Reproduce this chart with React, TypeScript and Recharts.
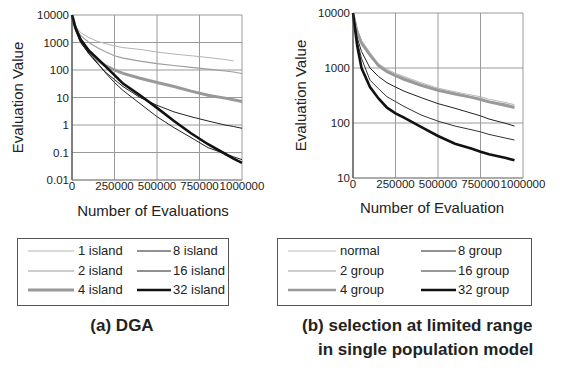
import React from 'react';
import { LineChart, Line, XAxis, YAxis, CartesianGrid, Label } from 'recharts';

const FONT = '"Liberation Sans", Arial, Helvetica, sans-serif';

// ---------- (a) DGA ----------
const dgaEvals = [0, 20000, 50000, 100000, 150000, 200000, 250000, 300000, 400000, 500000, 600000, 700000, 800000, 900000, 950000, 1000000];
const island1 = [10000, 4000, 2300, 1500, 1100, 900, 750, 650, 560, 450, 380, 330, 285, 240, 215, null];
const island2 = [10000, 3500, 1800, 1000, 650, 450, 330, 270, 210, 170, 145, 125, 108, 92, 85, 75];
const island4 = [10000, 3500, 1200, 450, 230, 140, 100, 75, 50, 35, 25, 17, 12, 9.5, 8.3, 7.2];
const island8 = [10000, 3000, 1100, 380, 170, 80, 45, 25, 10, 5.2, 3, 2, 1.4, 1.0, 0.88, 0.76];
const island16 = [10000, 3000, 1000, 400, 180, 75, 35, 18, 6, 2, 0.8, 0.35, 0.15, 0.09, 0.07, 0.055];
const island32 = [10000, 3500, 1300, 500, 260, 130, 65, 32, 12, 4.2, 1.4, 0.5, 0.2, 0.09, 0.06, 0.042];
const dgaYTicks = [0.01, 0.1, 1, 10, 100, 1000, 10000];

// ---------- (b) selection at limited range ----------
const selEvals = [0, 25000, 50000, 100000, 150000, 200000, 250000, 300000, 400000, 500000, 600000, 700000, 750000, 800000, 900000, 950000];
const groupNormal = [10000, 5000, 3200, 1900, 1200, 950, 800, 700, 540, 430, 370, 320, 300, 270, 235, 215];
const group2 = [10000, 4800, 3000, 1800, 1150, 900, 760, 660, 510, 410, 350, 300, 280, 250, 220, 200];
const group4 = [10000, 4500, 2800, 1700, 1100, 850, 720, 620, 480, 390, 335, 290, 265, 240, 205, 190];
const group8 = [10000, 3500, 2000, 1000, 700, 540, 450, 380, 290, 225, 185, 150, 135, 118, 98, 88];
const group16 = [10000, 3000, 1500, 600, 420, 300, 245, 200, 140, 108, 88, 75, 69, 62, 53, 49];
const group32 = [10000, 2500, 1000, 450, 280, 190, 150, 125, 85, 58, 42, 34, 30, 27, 23, 21];
const selYTicks = [10, 100, 1000, 10000];

const xTicks = [0, 250000, 500000, 750000, 1000000];

const minorOf = (decades: number[]) =>
  decades.flatMap((d) => [2, 3, 4, 5, 6, 7, 8, 9].map((m) => +(m * d).toPrecision(3)));

const dgaRows = dgaEvals.map((x, i) => ({
  x,
  i1: island1[i],
  i2: island2[i],
  i4: island4[i],
  i8: island8[i],
  i16: island16[i],
  i32: island32[i],
}));

const selRows = selEvals.map((x, i) => ({
  x,
  g1: groupNormal[i],
  g2: group2[i],
  g4: group4[i],
  g8: group8[i],
  g16: group16[i],
  g32: group32[i],
}));

const dgaSeries = [
  { key: 'i1', name: '1 island', color: '#b4b4b4', w: 1 },
  { key: 'i2', name: '2 island', color: '#9c9c9c', w: 1.1 },
  { key: 'i4', name: '4 island', color: '#999999', w: 3 },
  { key: 'i8', name: '8 island', color: '#222222', w: 1 },
  { key: 'i16', name: '16 island', color: '#222222', w: 1 },
  { key: 'i32', name: '32 island', color: '#111111', w: 2.6 },
];

const selSeries = [
  { key: 'g1', name: 'normal', color: '#b8b8b8', w: 1 },
  { key: 'g2', name: '2 group', color: '#a0a0a0', w: 1.2 },
  { key: 'g4', name: '4 group', color: '#999999', w: 2.6 },
  { key: 'g8', name: '8 group', color: '#222222', w: 1 },
  { key: 'g16', name: '16 group', color: '#333333', w: 1 },
  { key: 'g32', name: '32 group', color: '#111111', w: 2.6 },
];

const tickStyle = { fontSize: 11.5, fill: '#222', fontFamily: FONT };

type PanelProps = {
  rows: any[];
  series: { key: string; name: string; color: string; w: number }[];
  yDomain: [number, number];
  yTicks: number[];
  minor: number[];
  left: number;
  marginTop: number;
  marginRight: number;
  yAxisWidth: number;
  xAxisHeight: number;
  yTitleDx: number;
  xTitleDx: number;
  xTitleDy: number;
  xTitle: string;
};

function Panel(p: PanelProps) {
  return (
    <div style={{ position: 'absolute', left: p.left, top: 0 }}>
      <LineChart
        width={284}
        height={225}
        data={p.rows}
        margin={{ top: p.marginTop, right: p.marginRight, bottom: 0, left: 0 }}
      >
        <CartesianGrid stroke="#9a9a9a" strokeWidth={1} />
        <XAxis
          dataKey="x"
          type="number"
          domain={[0, 1000000]}
          ticks={xTicks}
          interval={0}
          tickSize={0}
          tickMargin={2}
          height={p.xAxisHeight}
          tick={tickStyle}
          axisLine={{ stroke: '#8a8a8a' }}
          tickFormatter={(v: number) => String(v)}
        >
          <Label
            content={(lp: any) => {
              const vb = lp.viewBox || { x: 0, y: 0, width: 0, height: 0 };
              return (
                <text
                  x={vb.x + p.xTitleDx}
                  y={vb.y + p.xTitleDy}
                  textAnchor="middle"
                  dominantBaseline="central"
                  fontSize={15}
                  fontFamily={FONT}
                  fill="#222"
                >
                  {p.xTitle}
                </text>
              );
            }}
          />
        </XAxis>
        <YAxis
          yAxisId={0}
          scale="log"
          domain={p.yDomain}
          allowDataOverflow
          ticks={p.yTicks}
          interval={0}
          tickSize={0}
          tickMargin={3}
          width={p.yAxisWidth}
          tick={tickStyle}
          axisLine={{ stroke: '#333' }}
          tickFormatter={(v: number) => String(v)}
        >
          <Label
            content={(lp: any) => {
              const vb = lp.viewBox || { x: 0, y: 0, width: 0, height: 0 };
              const cx = vb.x + p.yTitleDx;
              const cy = vb.y + vb.height / 2;
              return (
                <text
                  x={cx}
                  y={cy}
                  transform={`rotate(-90, ${cx}, ${cy})`}
                  textAnchor="middle"
                  dominantBaseline="central"
                  fontSize={15}
                  fontFamily={FONT}
                  fill="#222"
                >
                  Evaluation Value
                </text>
              );
            }}
          />
        </YAxis>
        <YAxis
          yAxisId="minor"
          scale="log"
          domain={p.yDomain}
          allowDataOverflow
          ticks={p.minor}
          interval={0}
          mirror
          tick={false}
          tickSize={3}
          width={0}
          axisLine={false}
          tickLine={{ stroke: '#333' }}
        />
        {p.series.map((s) => (
          <Line
            key={s.key}
            yAxisId={0}
            dataKey={s.key}
            name={s.name}
            type="linear"
            stroke={s.color}
            strokeWidth={s.w}
            dot={false}
            activeDot={false}
            isAnimationActive={false}
          />
        ))}
      </LineChart>
    </div>
  );
}

type LegendProps = {
  series: { key: string; name: string; color: string; w: number }[];
  left: number;
  top: number;
  width: number;
  height: number;
  cols: { line: number; len: number; text: number }[];
  rowY: number[];
};

function LegendBox(l: LegendProps) {
  return (
    <div
      style={{
        position: 'absolute',
        left: l.left,
        top: l.top,
        width: l.width,
        height: l.height,
        border: '1px solid #555',
        boxSizing: 'border-box',
        fontFamily: FONT,
        fontSize: 13,
        color: '#222',
      }}
    >
      {l.series.map((s, i) => {
        const col = l.cols[Math.floor(i / 3)];
        const y = l.rowY[i % 3];
        return (
          <div key={s.key}>
            <svg
              style={{ position: 'absolute', left: col.line, top: y - 3 }}
              width={col.len}
              height={6}
            >
              <line x1={0} y1={3} x2={col.len} y2={3} stroke={s.color} strokeWidth={s.w} />
            </svg>
            <div
              style={{
                position: 'absolute',
                left: col.text,
                top: y - 8,
                lineHeight: '16px',
                whiteSpace: 'nowrap',
              }}
            >
              {s.name}
            </div>
          </div>
        );
      })}
    </div>
  );
}

export default function App() {
  return (
    <div
      style={{
        position: 'absolute',
        left: 0,
        top: 0,
        width: 569,
        height: 373,
        background: '#fff',
        fontFamily: FONT,
      }}
    >
      <Panel
        rows={dgaRows}
        series={dgaSeries}
        yDomain={[0.01, 10000]}
        yTicks={dgaYTicks}
        minor={minorOf([0.01, 0.1, 1, 10, 100, 1000])}
        left={0}
        marginTop={15}
        marginRight={42}
        yAxisWidth={72}
        xAxisHeight={45}
        yTitleDx={17}
        xTitleDx={81}
        xTitleDy={30}
        xTitle="Number of Evaluations"
      />
      <Panel
        rows={selRows}
        series={selSeries}
        yDomain={[10, 10000]}
        yTicks={selYTicks}
        minor={minorOf([10, 100, 1000])}
        left={285}
        marginTop={13}
        marginRight={46}
        yAxisWidth={68}
        xAxisHeight={47}
        yTitleDx={15}
        xTitleDx={79}
        xTitleDy={29}
        xTitle="Number of Evaluation"
      />
      <LegendBox
        series={dgaSeries}
        left={17}
        top={238}
        width={212}
        height={68}
        cols={[
          { line: 10, len: 46, text: 60 },
          { line: 119, len: 34, text: 155 },
        ]}
        rowY={[12, 31.5, 51]}
      />
      <LegendBox
        series={selSeries}
        left={277}
        top={238}
        width={255}
        height={68}
        cols={[
          { line: 10, len: 48, text: 62 },
          { line: 143, len: 35, text: 180 },
        ]}
        rowY={[12, 31.5, 51]}
      />
      <div
        style={{
          position: 'absolute',
          left: 22,
          width: 200,
          top: 316,
          textAlign: 'center',
          fontWeight: 'bold',
          fontSize: 17,
          lineHeight: '20px',
          color: '#222',
        }}
      >
        (a) DGA
      </div>
      <div
        style={{
          position: 'absolute',
          left: 302,
          top: 316,
          fontWeight: 'bold',
          fontSize: 17,
          color: '#222',
          whiteSpace: 'nowrap',
        }}
      >
        <div style={{ lineHeight: '20px' }}>(b) selection at limited range</div>
        <div style={{ lineHeight: '20px', marginTop: 4, paddingLeft: 16 }}>in single population model</div>
      </div>
    </div>
  );
}
